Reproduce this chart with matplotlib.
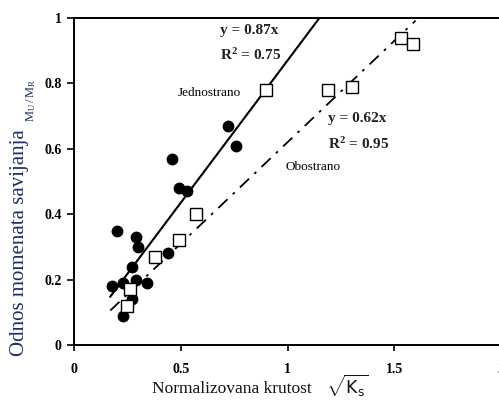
import numpy as np
import matplotlib
matplotlib.use('Agg')
import matplotlib.pyplot as plt

# jednostrano (puni krugovi)
x_jedno = [0.72, 0.76, 0.46, 0.49, 0.53, 0.20, 0.29, 0.30, 0.44, 0.27,
           0.18, 0.23, 0.29, 0.34, 0.27, 0.23]
y_jedno = [0.67, 0.61, 0.57, 0.48, 0.47, 0.35, 0.33, 0.30, 0.28, 0.24,
           0.18, 0.19, 0.20, 0.19, 0.14, 0.09]

# obostrano (prazni kvadrati)
x_obo = [1.53, 1.59, 1.30, 1.19, 0.90, 0.57, 0.49, 0.38, 0.26, 0.25]
y_obo = [0.94, 0.92, 0.79, 0.78, 0.78, 0.40, 0.32, 0.27, 0.17, 0.12]

k_jedno = 0.87
k_obo = 0.62
x_ticks = [0, 0.5, 1, 1.5, 2]
x_ticklabels = ['0', '0.5', '1', '1.5', '2']
y_ticks = [0, 0.2, 0.4, 0.6, 0.8, 1]
y_ticklabels = ['0', '0.2', '0.4', '0.6', '0.8', '1']

serif = ['Liberation Serif', 'DejaVu Serif']
plt.rcParams['mathtext.fontset'] = 'custom'
plt.rcParams['mathtext.rm'] = 'Liberation Serif'
plt.rcParams['mathtext.it'] = 'Liberation Serif:italic'
plt.rcParams['mathtext.bf'] = 'Liberation Serif:bold'
plt.rcParams['mathtext.sf'] = 'DejaVu Sans'

fig = plt.figure(figsize=(4.99, 4.09), dpi=100)
ax = fig.add_axes([74 / 499, 64 / 409, 427 / 499, 327 / 409])

# regresijske prave
xl = np.linspace(0.17, 1 / k_jedno, 50)
ax.plot(xl, k_jedno * xl, color='black', lw=1.5, zorder=2)
xo = np.linspace(0.17, 1.6, 50)
ax.plot(xo, k_obo * xo, color='black', lw=1.3, dashes=(7, 4, 1.5, 4), zorder=2)

ax.plot(x_jedno, y_jedno, 'o', color='black', ms=7.5, zorder=3)
ax.plot(x_obo, y_obo, 's', mfc='white', mec='black', mew=1.0, ms=8.5, zorder=4)

ax.set_xlim(0, 2)
ax.set_ylim(0, 1)
ax.set_xticks(x_ticks)
ax.set_xticklabels(x_ticklabels)
ax.set_yticks(y_ticks)
ax.set_yticklabels(y_ticklabels)
for lab in ax.get_xticklabels() + ax.get_yticklabels():
    lab.set_family(serif)
    lab.set_fontweight('bold')
    lab.set_fontsize(10)
ax.tick_params(axis='x', direction='out', length=4, width=1.2, pad=9)
ax.tick_params(axis='y', direction='out', length=5, width=1.2, pad=4)
for s in ax.spines.values():
    s.set_linewidth(1.4)

# tekstovi na grafiku
bold = dict(family=serif, fontweight='bold', fontsize=11, color='#222222')
ax.text(0.685, 0.963, 'y = 0.87x', va='center', **bold)
ax.text(0.685, 0.887, r'R$^\mathbf{2}$ = 0.75', va='center', **bold)
ax.text(1.19, 0.694, 'y = 0.62x', va='center', **bold)
ax.text(1.19, 0.615, r'R$^\mathbf{2}$ = 0.95', va='center', **bold)
ax.text(0.487, 0.771, 'Jednostrano', family=serif, fontsize=9.5, va='center')
ax.text(0.99, 0.544, 'Obostrano', family=serif, fontsize=9.5, va='center')

# oznake osa
fig.text(232 / 499, 1 - 389 / 409, 'Normalizovana krutost', family=serif,
         fontsize=12.5, ha='center', va='center', color='#111111')
fig.text(347 / 499, 1 - 386 / 409, r'$\sqrt{\mathsf{K_s}}$', fontsize=12.5,
         ha='center', va='center', color='#111111')
fig.text(20 / 499, 1 - 243 / 409, 'Odnos momenata savijanja', family=serif,
         fontsize=15, rotation=90, ha='center', va='center', color='#1b2d6b')
fig.text(31 / 499, 1 - 100 / 409, r'$\mathrm{M_U\,/\,M_R}$', fontsize=9,
         rotation=90, ha='center', va='center', color='#1b2d6b')

fig.savefig('out.png', dpi=100)
